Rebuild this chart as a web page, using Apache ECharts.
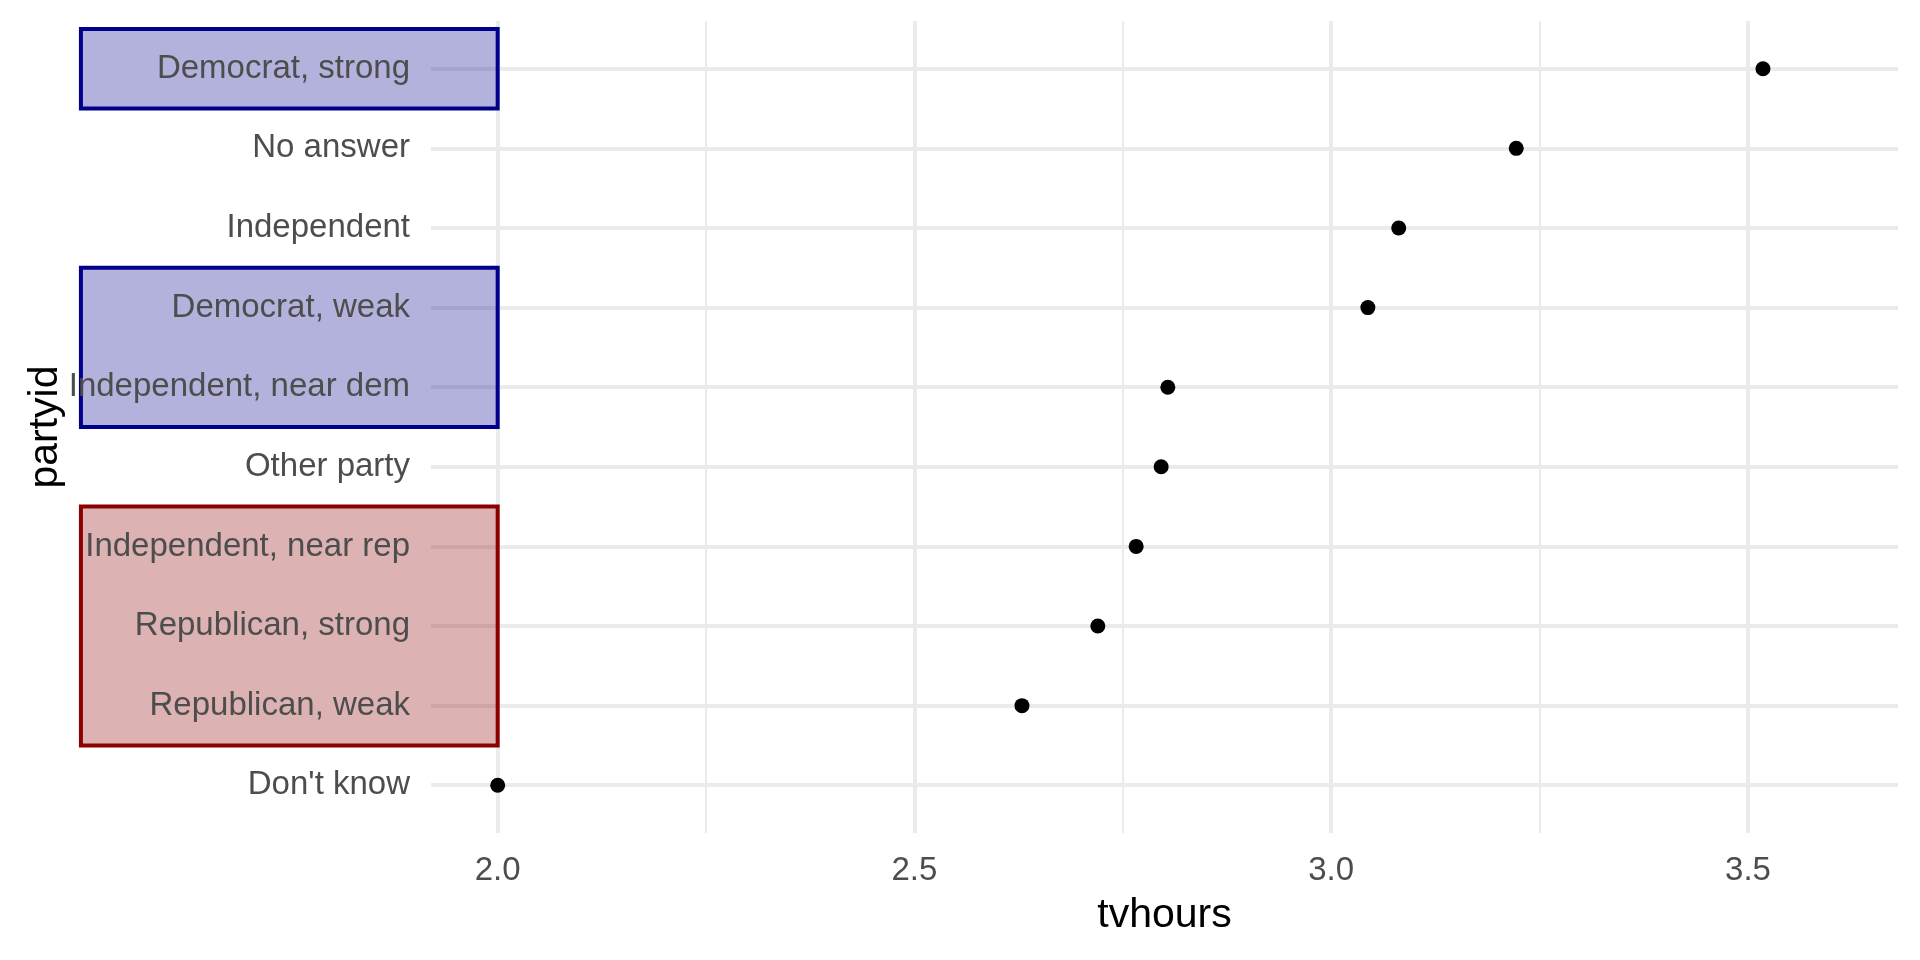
<!DOCTYPE html>
<html><head><meta charset="utf-8">
<script src="https://cdn.jsdelivr.net/npm/echarts@6/dist/echarts.min.js"></script>
<style>html,body{margin:0;padding:0;background:#fff}#c{width:1920px;height:960px}</style>
</head><body><div id="c"></div>
<script>
// categories, top to bottom
const partyid = ["Democrat, strong","No answer","Independent","Democrat, weak","Independent, near dem","Other party","Independent, near rep","Republican, strong","Republican, weak","Don't know"];
// mean tvhours per partyid
const tvhours = [3.518,3.222,3.081,3.044,2.804,2.796,2.766,2.720,2.629,2.000];
const xMajorTicks = [2.0,2.5,3.0,3.5];
const xMinorTicks = [2.25,2.75,3.25];
// highlighted groups (annotation rectangles)
const groupParty = ["Democrat","Democrat","Republican"];
const groupFirst = ["Democrat, strong","Democrat, weak","Independent, near rep"];
const groupLast  = ["Democrat, strong","Independent, near dem","Republican, weak"];
const groupXRange = [1.5, 2.0];

const n = partyid.length;
const pos = name => n - partyid.indexOf(name);
const yTicks = partyid.map((_, i) => n - i);
const partyStyle = {
  Democrat:   {fill:'rgba(0,0,139,0.3)', stroke:'#00008B'},
  Republican: {fill:'rgba(139,0,0,0.3)', stroke:'#8B0000'}
};
const rectData = groupParty.map((p, i) => [groupXRange[0], groupXRange[1], pos(groupFirst[i]) + 0.5, pos(groupLast[i]) - 0.5, i]);

const FONT = "'Liberation Sans', Arial, sans-serif";
const chart = echarts.init(document.getElementById('c'), null, {renderer:'canvas'});
chart.setOption({
  animation:false,
  backgroundColor:'#fff',
  textStyle:{fontFamily:FONT},
  grid:{left:431,right:22,top:21,bottom:127,containLabel:false},
  xAxis:[{
    type:'value', min:1.92, max:3.68, position:'bottom',
    axisLine:{show:false},
    axisTick:{show:false, customValues:xMajorTicks},
    axisLabel:{customValues:xMajorTicks, formatter:v=>Number(v).toFixed(1), fontSize:33, color:'#4d4d4d', margin:21, fontFamily:FONT},
    splitLine:{show:true, lineStyle:{color:'#ebebeb', width:4}},
    name:'tvhours', nameLocation:'middle', nameGap:62, nameMoveOverlap:false,
    nameTextStyle:{fontSize:41, color:'#000', fontFamily:FONT}
  },{
    type:'value', min:1.92, max:3.68, position:'bottom',
    axisLine:{show:false},
    axisTick:{show:false, customValues:xMinorTicks},
    axisLabel:{show:false},
    splitLine:{show:true, lineStyle:{color:'#ebebeb', width:2}}
  }],
  yAxis:[{
    type:'value', min:0.4, max:10.6, position:'left', z:0,
    axisLine:{show:false},
    axisTick:{show:false, customValues:yTicks},
    axisLabel:{show:false},
    splitLine:{show:true, lineStyle:{color:'#ebebeb', width:4}}
  },{
    type:'value', min:0.4, max:10.6, position:'left', z:5,
    axisLine:{show:false},
    axisTick:{show:false, customValues:yTicks},
    axisLabel:{customValues:yTicks, formatter:v=>partyid[n - Math.round(v)], fontSize:33, color:'#4d4d4d', margin:21, padding:[4,0,0,0], fontFamily:FONT},
    splitLine:{show:false},
    name:'partyid', nameLocation:'middle', nameGap:365, nameRotate:90, nameMoveOverlap:false,
    nameTextStyle:{fontSize:41, color:'#000', fontFamily:FONT}
  }],
  series:[{
    type:'custom', xAxisIndex:0, yAxisIndex:0, z:2, clip:false, silent:true,
    encode:{x:[0,1], y:[2,3]},
    data:rectData,
    renderItem:function(params, api){
      const p1 = api.coord([api.value(0), api.value(2)]);
      const p2 = api.coord([api.value(1), api.value(3)]);
      const st = partyStyle[groupParty[api.value(4)]];
      return {type:'rect', shape:{x:p1[0], y:p1[1], width:p2[0]-p1[0], height:p2[1]-p1[1]},
        style:{fill:st.fill, stroke:st.stroke, lineWidth:4}};
    }
  },{
    type:'scatter', xAxisIndex:0, yAxisIndex:0, z:3,
    symbol:'circle', symbolSize:15,
    itemStyle:{color:'#000', opacity:1},
    data:tvhours.map((v,i)=>[v, n - i])
  }]
});
</script></body></html>
